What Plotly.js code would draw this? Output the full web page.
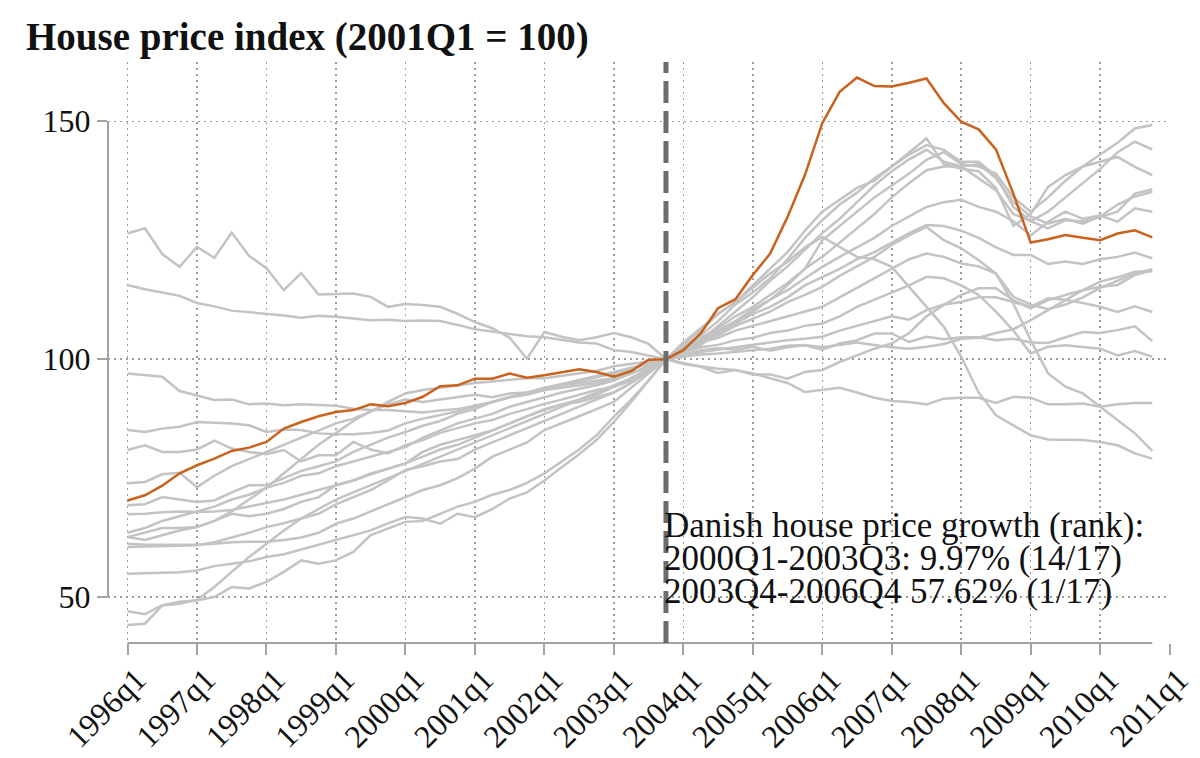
<!DOCTYPE html>
<html>
<head>
<meta charset="utf-8">
<script src="https://cdn.plot.ly/plotly-3.0.1.min.js"></script>
<style>
  html, body { margin: 0; padding: 0; background: #fff; }
  #chart { width: 1200px; height: 758px; }
</style>
</head>
<body>
<div id="chart"></div>
<script>
// quarters 1996q1 .. 2010q4 (60 points), index 2003q4 = 100
const firstYear = 1996;
const lastYear = 2010;

const tickYears = [1996, 1997, 1998, 1999, 2000, 2001, 2002, 2003, 2004, 2005, 2006, 2007, 2008, 2009, 2010, 2011];
const tickLabels = ['1996q1', '1997q1', '1998q1', '1999q1', '2000q1', '2001q1', '2002q1', '2003q1',
    '2004q1', '2005q1', '2006q1', '2007q1', '2008q1', '2009q1', '2010q1', '2011q1'];

const denmark = [70.3, 71.4, 73.4, 76.0, 77.7, 79.1, 80.7, 81.4, 82.6, 85.4, 86.8, 88.0, 88.9, 89.3, 90.5, 90.1,
    90.8, 92.1, 94.3, 94.5, 95.9, 95.9, 97.0, 96.1, 96.6, 97.3, 97.9, 97.3, 96.3, 97.5, 99.9, 100.0,
    101.9, 105.4, 110.7, 112.6, 117.7, 122.2, 129.9, 138.7, 149.6, 156.2, 159.2, 157.4, 157.3, 158.1, 159.0, 153.8,
    149.9, 148.3, 144.1, 134.8, 124.5, 125.2, 126.1, 125.5, 125.0, 126.4, 127.1, 125.6];

// other countries (grey)
const g01 = [126.4, 127.5, 122.1, 119.4, 123.6, 121.3, 126.6, 121.7, 119.1, 114.5, 118.1, 113.6, 113.7, 113.8, 113.1, 111.0,
    111.6, 111.4, 111.0, 109.5, 107.8, 106.5, 104.5, 100.1, 105.7, 104.7, 104.0, 104.6, 105.5, 104.6, 103.2, 100.0,
    99.0, 98.5, 98.0, 97.7, 97.0, 96.0, 95.0, 93.1, 93.6, 94.0, 93.0, 91.9, 91.2, 91.0, 90.5, 91.7,
    91.9, 91.9, 90.8, 92.1, 91.9, 90.5, 90.5, 90.7, 90.0, 90.5, 90.8, 90.8];
const g02 = [115.6, 114.7, 114.0, 113.3, 111.8, 111.1, 110.2, 109.9, 109.5, 109.2, 108.7, 109.1, 108.9, 108.5, 108.2, 108.3,
    108.0, 108.1, 108.0, 107.2, 106.3, 105.8, 105.3, 104.8, 104.6, 104.0, 103.5, 103.3, 101.9, 101.5, 100.8, 100.0,
    101.0, 101.9, 102.3, 102.0, 102.6, 101.8, 102.5, 102.9, 102.0, 103.3, 104.0, 105.4, 105.4, 103.6, 104.7, 104.2,
    104.6, 104.6, 104.0, 104.3, 103.5, 103.4, 104.6, 105.7, 105.5, 106.1, 106.9, 103.8];
const g03 = [97.0, 96.6, 96.3, 93.3, 92.3, 91.4, 91.5, 90.5, 90.7, 90.3, 90.5, 90.3, 90.2, 89.6, 89.3, 89.3,
    89.0, 88.8, 89.2, 89.5, 90.2, 91.0, 92.0, 93.0, 93.5, 94.5, 95.4, 96.2, 97.0, 98.0, 99.0, 100.0,
    101.5, 102.5, 103.0, 104.0, 104.5, 105.5, 106.0, 107.0, 107.5, 109.0, 111.0, 112.5, 114.0, 115.5, 117.3, 117.0,
    115.5, 113.5, 110.0, 106.0, 101.2, 102.6, 102.9, 102.6, 102.2, 100.8, 101.7, 100.5];
const g04 = [85.1, 84.7, 85.4, 85.8, 86.8, 86.6, 86.5, 86.1, 84.7, 85.2, 85.1, 84.4, 84.2, 84.2, 84.5, 85.0,
    86.5, 87.5, 88.2, 89.0, 90.0, 91.0, 92.0, 93.0, 94.0, 94.8, 95.6, 96.5, 97.3, 98.2, 99.0, 100.0,
    100.5, 101.5, 102.0, 102.5, 102.9, 103.5, 104.0, 104.3, 104.7, 106.0, 107.0, 108.0, 109.0, 108.3, 110.3, 111.5,
    112.0, 113.0, 113.0, 112.0, 111.0, 112.8, 112.5, 111.8, 111.0, 109.9, 111.1, 109.9];
const g05 = [80.9, 81.9, 80.5, 80.5, 81.0, 82.9, 81.2, 80.5, 80.0, 80.9, 78.5, 79.8, 79.8, 82.6, 81.0, 80.2,
    81.9, 83.0, 84.5, 85.5, 86.5, 87.2, 88.5, 89.5, 90.6, 91.5, 92.5, 93.5, 94.2, 96.0, 98.0, 100.0,
    100.5, 101.0, 101.2, 101.5, 101.8, 102.2, 102.8, 103.0, 102.5, 103.0, 103.5, 103.0, 102.5, 102.2, 102.6, 103.2,
    104.3, 104.5, 105.5, 106.3, 108.2, 110.3, 112.4, 114.5, 116.3, 117.2, 118.4, 118.5];
const g06 = [73.9, 74.2, 75.8, 76.1, 73.1, 75.5, 77.5, 79.0, 80.5, 82.0, 83.5, 85.0, 86.5, 87.5, 89.0, 90.5,
    91.5, 91.0, 91.5, 92.0, 92.5, 92.0, 92.8, 93.0, 93.5, 94.0, 94.5, 95.0, 95.8, 97.0, 98.5, 100.0,
    99.2, 98.4, 97.1, 97.7, 96.8, 96.8, 95.9, 97.3, 97.7, 99.4, 100.8, 102.2, 103.3, 105.5, 109.0, 111.4,
    113.5, 114.9, 114.9, 112.4, 110.7, 112.4, 113.5, 114.5, 115.2, 115.6, 117.7, 118.7];
const g07 = [69.3, 69.5, 71.0, 70.5, 70.0, 70.3, 72.0, 73.5, 73.5, 75.0, 76.5, 77.5, 78.5, 80.5, 82.0, 83.5,
    84.7, 86.0, 87.0, 88.5, 89.5, 91.0, 92.0, 92.5, 93.5, 94.5, 95.0, 95.5, 96.0, 97.0, 98.5, 100.0,
    102.0, 103.5, 104.5, 106.0, 107.0, 108.0, 109.0, 110.0, 111.0, 113.0, 115.0, 117.0, 119.0, 121.0, 122.2, 121.5,
    120.1, 119.5, 118.0, 113.1, 111.5, 110.5, 111.5, 113.0, 115.0, 116.5, 118.0, 118.9];
const g08 = [67.4, 67.5, 67.8, 68.0, 67.9, 68.0, 68.3, 69.0, 69.7, 70.5, 71.5, 72.5, 73.5, 74.5, 75.8, 77.0,
    78.1, 79.5, 81.0, 82.0, 83.5, 85.0, 86.5, 88.0, 89.3, 90.5, 91.5, 92.5, 94.2, 95.5, 97.5, 100.0,
    101.5, 103.0, 105.5, 107.5, 109.5, 111.0, 113.0, 115.5, 117.3, 119.0, 121.0, 122.5, 124.5, 126.5, 128.2, 128.0,
    127.0, 125.5, 123.5, 121.9, 121.9, 120.0, 120.5, 120.0, 121.0, 121.5, 122.4, 121.2];
const g09 = [63.5, 64.5, 66.0, 67.0, 68.0, 69.0, 70.5, 71.5, 73.0, 74.0, 75.5, 76.0, 77.5, 78.5, 79.5, 80.5,
    81.5, 83.5, 85.0, 86.5, 87.5, 88.5, 90.0, 91.0, 92.0, 93.0, 93.8, 94.5, 95.5, 97.0, 98.5, 100.0,
    101.0, 103.5, 106.0, 108.0, 110.5, 112.5, 114.5, 117.0, 119.4, 121.5, 123.5, 125.5, 128.0, 130.0, 132.0, 133.0,
    133.5, 132.0, 131.0, 129.0, 126.0, 128.9, 131.0, 129.5, 130.2, 128.9, 131.7, 131.0];
const g10 = [62.6, 63.5, 64.5, 64.5, 64.7, 66.0, 67.5, 67.0, 67.5, 68.5, 70.0, 71.0, 73.5, 74.5, 76.0, 77.0,
    78.1, 80.5, 82.0, 83.0, 84.0, 85.0, 86.5, 88.0, 89.5, 90.5, 91.0, 92.0, 93.0, 95.0, 97.5, 100.0,
    102.0, 104.5, 106.5, 109.0, 111.0, 113.5, 116.0, 119.0, 121.5, 124.5, 127.5, 130.5, 134.0, 137.0, 139.7, 140.5,
    140.5, 141.0, 138.0, 133.0, 130.0, 128.5, 129.5, 128.5, 130.0, 132.5, 134.2, 135.2];
const g11 = [62.6, 62.0, 63.0, 64.0, 64.7, 66.0, 68.0, 70.5, 73.0, 76.0, 79.0, 82.0, 84.5, 87.0, 89.0, 91.0,
    92.8, 93.5, 94.0, 94.5, 95.0, 95.3, 95.6, 96.0, 96.0, 96.5, 97.0, 97.5, 98.5, 99.0, 99.5, 100.0,
    101.5, 103.5, 105.0, 107.0, 108.5, 110.0, 112.0, 113.5, 115.2, 117.5, 119.5, 121.5, 124.0, 126.0, 127.8, 125.0,
    123.3, 120.8, 118.0, 111.7, 104.0, 97.0, 94.2, 92.8, 90.0, 87.2, 84.4, 80.7];
const g12 = [61.2, 61.0, 61.0, 61.0, 61.0, 61.2, 61.5, 61.6, 61.6, 62.0, 62.5, 63.5, 65.4, 66.5, 68.0, 69.5,
    71.0, 72.5, 73.5, 75.0, 77.0, 79.5, 81.0, 82.5, 85.1, 86.5, 88.0, 89.5, 91.0, 94.0, 97.0, 100.0,
    103.5, 106.5, 109.5, 112.0, 115.0, 118.0, 120.5, 123.5, 125.7, 123.6, 121.5, 121.0, 119.4, 115.2, 111.0, 106.8,
    100.5, 93.0, 88.2, 86.1, 84.0, 83.1, 83.0, 83.0, 82.6, 81.9, 80.2, 79.1];
const g13 = [60.5, 60.6, 60.8, 60.9, 60.9, 61.5, 62.5, 63.5, 64.7, 65.5, 66.5, 67.5, 69.5, 71.0, 72.5, 74.5,
    76.7, 77.5, 78.5, 79.0, 81.0, 82.5, 84.0, 85.5, 87.0, 88.5, 90.0, 91.5, 93.0, 95.0, 97.5, 100.0,
    101.5, 104.0, 107.0, 110.0, 113.0, 116.5, 119.5, 123.0, 126.5, 129.5, 133.0, 136.5, 139.5, 142.0, 144.0, 141.5,
    140.5, 138.0, 135.5, 130.5, 129.0, 127.5, 129.2, 129.0, 129.9, 131.0, 134.8, 135.7];
const g14 = [54.9, 55.0, 55.0, 55.2, 55.6, 56.5, 57.0, 57.5, 58.4, 59.0, 60.0, 61.0, 62.0, 63.0, 64.0, 65.5,
    66.8, 66.5, 65.4, 67.5, 66.8, 68.5, 70.7, 72.0, 74.5, 77.3, 80.0, 83.0, 86.8, 91.0, 95.5, 100.0,
    103.0, 106.0, 109.5, 112.0, 115.5, 119.0, 122.5, 127.0, 131.0, 133.5, 136.0, 137.5, 140.5, 143.5, 146.4, 141.0,
    140.0, 139.5, 136.0, 128.0, 130.5, 136.2, 138.7, 140.5, 141.5, 142.5, 140.4, 138.7];
const g15 = [47.0, 46.4, 48.3, 49.0, 49.3, 50.0, 52.1, 51.8, 53.2, 55.3, 57.7, 57.0, 57.7, 59.5, 63.0, 64.4,
    65.8, 66.0, 67.5, 69.0, 70.0, 71.5, 72.5, 74.0, 76.0, 78.5, 81.0, 84.0, 87.9, 91.5, 95.5, 100.0,
    102.5, 105.0, 108.0, 111.5, 114.0, 117.0, 121.0, 125.5, 129.2, 132.5, 135.0, 138.0, 140.5, 143.0, 145.0, 144.0,
    141.5, 141.5, 138.5, 132.0, 129.0, 131.0, 134.0, 137.0, 140.0, 143.5, 145.7, 144.1];
const g16 = [44.1, 44.4, 48.2, 48.6, 49.4, 52.1, 55.3, 58.4, 61.2, 64.0, 66.5, 68.5, 70.5, 72.0, 73.5, 75.0,
    76.5, 78.0, 79.5, 81.0, 82.5, 84.0, 85.5, 87.0, 88.5, 90.0, 91.5, 93.0, 94.5, 96.0, 98.0, 100.0,
    102.0, 104.0, 106.0, 107.5, 110.0, 112.5, 115.5, 119.0, 125.0, 128.0, 131.0, 134.0, 136.5, 139.0, 141.9, 143.5,
    141.0, 140.5, 139.0, 134.0, 131.0, 134.0, 137.5, 140.5, 143.0, 145.5, 148.5, 149.2];

const others = [g01, g02, g03, g04, g05, g06, g07, g08, g09, g10, g11, g12, g13, g14, g15, g16];

const noteLines = [
    'Danish house price growth (rank):',
    '2000Q1-2003Q3: 9.97% (14/17)',
    '2003Q4-2006Q4 57.62% (1/17)'
];

// x positions of the quarters
const quarters = [];
for (let y = firstYear; y <= lastYear; y++) {
    for (let q = 0; q < 4; q++) quarters.push(y + q / 4);
}
const breakQuarter = 2003.75;

const serif = 'Liberation Serif, Times New Roman, serif';
const gridGrey = '#9c9c9c';
const axisGrey = '#a3a3a3';

const traces = others.map(vals => ({
    x: quarters,
    y: vals,
    mode: 'lines',
    type: 'scatter',
    line: { color: '#c3c3c3', width: 2.5 },
    hoverinfo: 'skip',
}));

traces.push({
    x: quarters,
    y: denmark,
    mode: 'lines',
    type: 'scatter',
    line: { color: '#c8621d', width: 2.5 },
    hoverinfo: 'skip',
});

const annotations = noteLines.map((txt, i) => ({
    text: txt,
    x: breakQuarter,
    xref: 'x',
    y: 65.0 - i * 6.9,
    yref: 'y',
    xanchor: 'left',
    yanchor: 'middle',
    xshift: -4,
    showarrow: false,
    font: { family: serif, size: 35, color: '#111' },
}));

const layout = {
    width: 1200,
    height: 758,
    margin: { l: 108, r: 30, t: 62, b: 115 },
    paper_bgcolor: '#ffffff',
    plot_bgcolor: '#ffffff',
    showlegend: false,
    title: {
        text: 'House price index (2001Q1 = 100)',
        x: 26 / 1200,
        xref: 'container',
        xanchor: 'left',
        y: 1 - 36 / 758,
        yref: 'container',
        yanchor: 'middle',
        font: { family: serif, size: 39, color: '#111', weight: 'bold' },
    },
    xaxis: {
        range: [1995.719, 2011.005],
        tickvals: tickYears,
        ticktext: tickLabels,
        tickangle: -45,
        ticks: 'outside',
        ticklen: 11,
        tickwidth: 2,
        tickcolor: axisGrey,
        ticklabelshift: 9,
        ticklabelstandoff: -7,
        showline: false,
        zeroline: false,
        showgrid: true,
        gridcolor: gridGrey,
        gridwidth: 1.5,
        griddash: '1.5px,4.5px',
        tickfont: { family: serif, size: 32, color: '#111' },
    },
    yaxis: {
        range: [40.34, 162.46],
        tickvals: [50, 100, 150],
        ticks: 'outside',
        ticklen: 10,
        tickwidth: 2,
        tickcolor: axisGrey,
        showline: false,
        zeroline: false,
        showgrid: true,
        gridcolor: gridGrey,
        gridwidth: 1.5,
        griddash: '1.5px,4.5px',
        tickfont: { family: serif, size: 32, color: '#111' },
    },
    shapes: [
        // axis lines only over the data span, Stata style
        { type: 'line', xref: 'x', yref: 'paper', x0: firstYear, x1: lastYear + 0.75, y0: 0, y1: 0,
          line: { color: axisGrey, width: 2 } },
        { type: 'line', xref: 'paper', yref: 'y', x0: 0, x1: 0, y0: 50, y1: 150,
          line: { color: axisGrey, width: 2 } },
        // break line at 2003q4
        { type: 'line', xref: 'x', yref: 'paper', x0: breakQuarter, x1: breakQuarter, y0: 0, y1: 1,
          line: { color: '#6c6c6c', width: 5, dash: '22px,8px' } },
    ],
    annotations: annotations,
};

Plotly.newPlot('chart', traces, layout, { displayModeBar: false, staticPlot: true });
</script>
</body>
</html>
